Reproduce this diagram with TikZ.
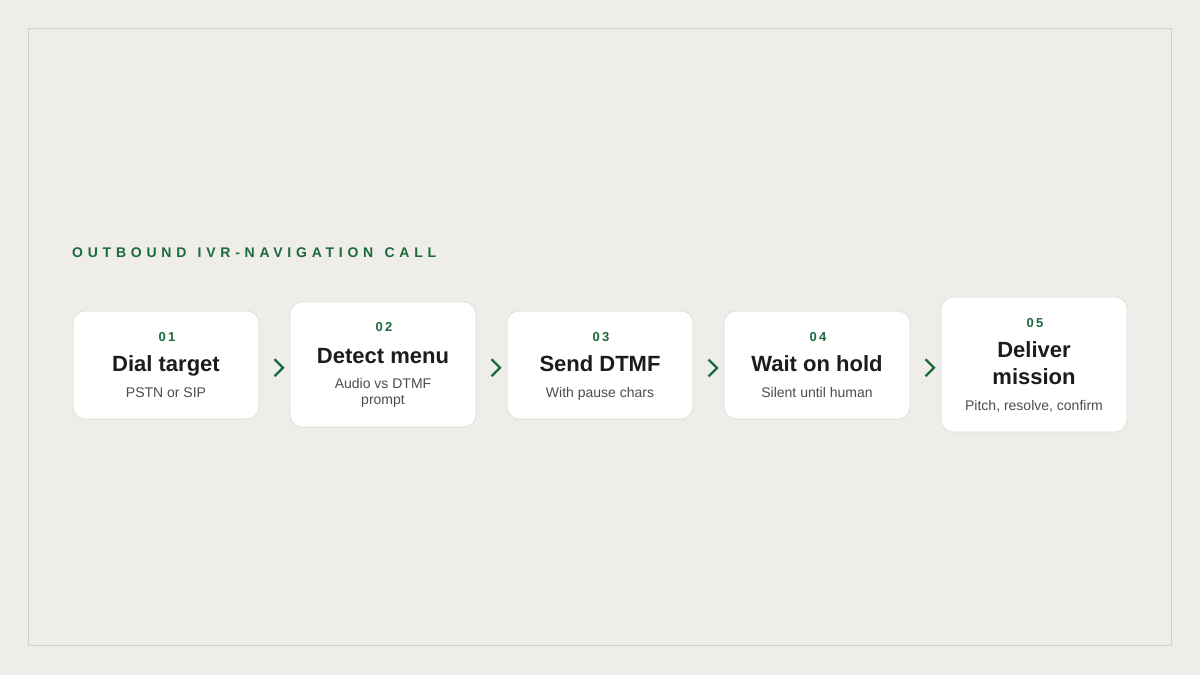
\documentclass[tikz,border=0pt]{standalone}
\usepackage{fontspec}
\setmainfont{Liberation Sans}
\newfontfamily\trackfont[LetterSpace=34,WordSpace=1.3]{Liberation Sans}
\newfontfamily\numfont[LetterSpace=18]{Liberation Sans}
\usetikzlibrary{calc}
\definecolor{bgcol}{HTML}{EFEDE9}
\definecolor{framecol}{HTML}{D3D0CA}
\definecolor{cardline}{HTML}{E1DDD7}
\definecolor{ivrgreen}{HTML}{1A6B3C}
\definecolor{inkcol}{HTML}{1C1C1C}
\definecolor{subcol}{HTML}{4D4D4D}

\begin{document}
\begin{tikzpicture}[x=1pt,y=1pt]
\tikzset{card/.style={draw=cardline,fill=white,rounded corners=12pt,line width=0.8pt,
  minimum width=186pt,inner sep=0pt},
num/.style={anchor=base,inner sep=0pt,text=ivrgreen,font=\numfont\bfseries\fontsize{13}{15}\selectfont},
head/.style={anchor=base,inner sep=0pt,text=inkcol,font=\bfseries\fontsize{22}{27}\selectfont},
sub/.style={anchor=base,inner sep=0pt,text=subcol,font=\fontsize{14}{16}\selectfont},
chev/.style={draw=ivrgreen,line width=2.2pt}}

\fill[bgcol] (0,0) rectangle (1200,675);
\draw[framecol,line width=1pt] (28.5,29) rectangle (1171.5,646.5);

\node[anchor=base west,inner sep=0pt,text=ivrgreen,font=\trackfont\bfseries\fontsize{14}{16}\selectfont]
  (ttl) at (72,417) {OUTBOUND IVR-NAVIGATION CALL};

\node[card,minimum height=108pt] (c1) at (166,310) {};
\node[num] (n1) at (167,333) {01};
\node[head] (h1) at (166,303) {Dial target};
\node[sub] (s1) at (166,277) {PSTN or SIP};

\node[card,minimum height=125pt] (c2) at (383,310.5) {};
\node[num] (n2) at (384,343) {02};
\node[head] (h2) at (383,311.7) {Detect menu};
\node[sub] (s2) at (383,286) {Audio vs DTMF};
\node[sub] (s2b) at (383,270) {prompt};

\node[card,minimum height=108pt] (c3) at (600,310) {};
\node[num] (n3) at (601,333) {03};
\node[head] (h3) at (600,303) {Send DTMF};
\node[sub] (s3) at (600,277) {With pause chars};

\node[card,minimum height=108pt] (c4) at (817,310) {};
\node[num] (n4) at (818,333) {04};
\node[head] (h4) at (817,303) {Wait on hold};
\node[sub] (s4) at (817,277) {Silent until human};

\node[card,minimum height=135pt] (c5) at (1034,310.5) {};
\node[num] (n5) at (1035,347.7) {05};
\node[head] (h5) at (1034,317) {Deliver};
\node[head] (h5b) at (1034,290) {mission};
\node[sub] (s5) at (1034,264.3) {Pitch, resolve, confirm};

\draw[chev] ($(c1.east)!0.5!(c2.west)+(0,5.5)$) -- ++(8.5,-8.5) -- ++(-8.5,-8.5);
\draw[chev] ($(c2.east)!0.5!(c3.west)+(0,5.5)$) -- ++(8.5,-8.5) -- ++(-8.5,-8.5);
\draw[chev] ($(c3.east)!0.5!(c4.west)+(0,5.5)$) -- ++(8.5,-8.5) -- ++(-8.5,-8.5);
\draw[chev] ($(c4.east)!0.5!(c5.west)+(0,5.5)$) -- ++(8.5,-8.5) -- ++(-8.5,-8.5);

\end{tikzpicture}
\end{document}
